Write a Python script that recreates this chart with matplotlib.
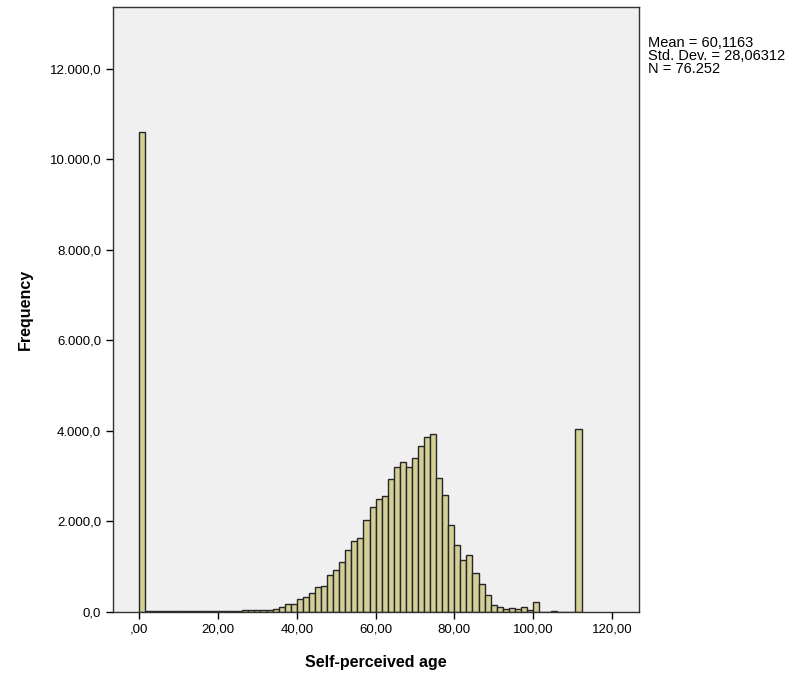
import numpy as np
import matplotlib.pyplot as plt
from matplotlib.ticker import FuncFormatter

plt.rcParams['font.family'] = ['Liberation Sans', 'DejaVu Sans']

# histogram of self-perceived age, bins of 20/13 starting at 0
bin_width = 20 / 13
counts = [10600, 12, 12, 12, 14, 14, 15, 18, 25, 30, 25, 20, 18,
          20, 22, 28, 30, 35, 40, 45, 50, 55, 75, 120, 185, 180,
          280, 330, 420, 560, 575, 820, 935, 1115, 1365, 1565, 1640, 2035, 2310,
          2500, 2565, 2930, 3205, 3320, 3200, 3390, 3660, 3870, 3935, 2955, 2580, 1915,
          1480, 1140, 1250, 860, 620, 372, 160, 120, 75, 85, 65, 100, 40,
          225, 0, 0, 15, 0, 0, 0, 4050]
stats_text = "Mean = 60,1163\nStd. Dev. = 28,06312\nN = 76.252"
x_ticks = [0, 20, 40, 60, 80, 100, 120]
y_ticks = [0, 2000, 4000, 6000, 8000, 10000, 12000]

left_edges = np.arange(len(counts)) * bin_width

fig = plt.figure(figsize=(7.92, 6.78), dpi=100)
ax = fig.add_axes([113/792, 1 - 612/678, (639-113)/792, (612-7)/678])
ax.set_facecolor('#f0f0f0')

ax.bar(left_edges, counts, width=bin_width, align='edge',
       color='#d4cf98', edgecolor='#262626', linewidth=1.0)

ax.set_xlim(-6.68, 126.9)
ax.set_ylim(0, 13358)
ax.set_xticks(x_ticks)
ax.set_yticks(y_ticks)


def x_fmt(v, pos):
    s = f"{v:.2f}".replace('.', ',')
    return s[1:] if s.startswith('0,') else s


def y_fmt(v, pos):
    s = f"{v:,.1f}"
    return s.replace(',', 'X').replace('.', ',').replace('X', '.')


ax.xaxis.set_major_formatter(FuncFormatter(x_fmt))
ax.yaxis.set_major_formatter(FuncFormatter(y_fmt))
ax.tick_params(direction='out', length=5, width=1, labelsize=9.5, colors='black')
for sp in ax.spines.values():
    sp.set_linewidth(1.0)
    sp.set_color('#333333')

ax.set_xlabel('Self-perceived age', fontsize=11.5, fontweight='bold', labelpad=14)
ax.set_ylabel('Frequency', fontsize=11.5, fontweight='bold', labelpad=12)

fig.text(648/792, 1 - 36/678, stats_text, fontsize=10.5, va='top', ha='left',
         linespacing=0.92)

fig.savefig('out.png', dpi=100)
